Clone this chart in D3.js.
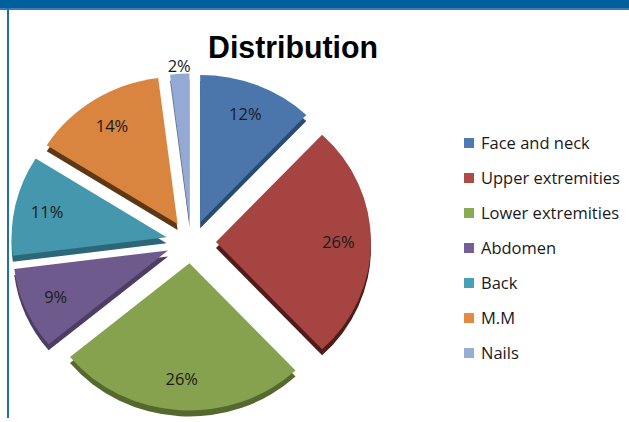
<!DOCTYPE html>
<html>
<head>
<meta charset="utf-8">
<script src="https://cdnjs.cloudflare.com/ajax/libs/d3/7.8.5/d3.min.js"></script>
<style>
  body { margin: 0; background: #ffffff; }
  svg { display: block; }
</style>
</head>
<body>
<script>
var categories = [
  "Face and neck",
  "Upper extremities",
  "Lower extremities",
  "Abdomen",
  "Back",
  "M.M",
  "Nails",
];

var values = [12, 26, 26, 9, 11, 14, 2];

var colors = [
  "#4a76ac",
  "#a54440",
  "#87a24f",
  "#6f5a8d",
  "#4597ad",
  "#d9853f",
  "#95aad2",
];

var sideColors = [
  "#2c4a70",
  "#4e1c1b",
  "#55682e",
  "#4d3d63",
  "#2c6777",
  "#5e3714",
  "#5e6f90",
];

var legendColors = [
  "#4f7bb4",
  "#b04a47",
  "#8bab53",
  "#765e97",
  "#48a0b8",
  "#e48a42",
  "#94aed6",
];

var width = 629,
  height = 422;

var svg = d3
  .select("body")
  .append("svg")
  .attr("width", width)
  .attr("height", height);

// frame
svg
  .append("rect")
  .attr("x", 0)
  .attr("y", 0)
  .attr("width", width)
  .attr("height", 8)
  .attr("fill", "#00609e");
svg
  .append("rect")
  .attr("x", 0)
  .attr("y", 8)
  .attr("width", width)
  .attr("height", 2)
  .attr("fill", "#3a7fb6");
svg
  .append("rect")
  .attr("x", 7)
  .attr("y", 8)
  .attr("width", 2)
  .attr("height", 410)
  .attr("fill", "#1f6fae");

// title
svg
  .append("text")
  .attr("x", 293)
  .attr("y", 58)
  .attr("text-anchor", "middle")
  .attr("font-family", "Liberation Sans, Arial, sans-serif")
  .attr("font-weight", "bold")
  .attr("font-size", 31)
  .attr("textLength", 170)
  .attr("lengthAdjust", "spacingAndGlyphs")
  .attr("fill", "#000")
  .text("Distribution");

var cx = 191,
  cy = 242,
  radius = 155,
  tilt = 0.95,
  explode = 25,
  explodeTilt = 0.85,
  depth = 6;

var pie = d3
  .pie()
  .sort(null)
  .value(function (d) {
    return d;
  });

var arcs = pie(values);

var arc = d3.arc().innerRadius(0).outerRadius(radius);

function apex(d) {
  var mid = (d.startAngle + d.endAngle) / 2;
  return [
    cx + Math.sin(mid) * explode,
    cy - Math.cos(mid) * explode * explodeTilt,
  ];
}

var pieG = svg.append("g");

// sides first, then tops
pieG
  .selectAll("path.side")
  .data(arcs)
  .enter()
  .append("path")
  .attr("class", "side")
  .attr("transform", function (d) {
    var p = apex(d);
    return "translate(" + p[0] + "," + (p[1] + depth) + ") scale(1," + tilt + ")";
  })
  .attr("d", arc)
  .attr("fill", function (d, i) {
    return sideColors[i];
  });

pieG
  .selectAll("path.top")
  .data(arcs)
  .enter()
  .append("path")
  .attr("class", "top")
  .attr("transform", function (d) {
    var p = apex(d);
    return "translate(" + p[0] + "," + p[1] + ") scale(1," + tilt + ")";
  })
  .attr("d", arc)
  .attr("fill", function (d, i) {
    return colors[i];
  });

// percent labels
pieG
  .selectAll("text")
  .data(arcs)
  .enter()
  .append("text")
  .attr("x", function (d) {
    var mid = (d.startAngle + d.endAngle) / 2;
    var r = d.value < 5 ? radius * 1.05 : radius * 0.79;
    return apex(d)[0] + Math.sin(mid) * r;
  })
  .attr("y", function (d) {
    var mid = (d.startAngle + d.endAngle) / 2;
    var r = d.value < 5 ? radius * 1.05 : radius * 0.79;
    return apex(d)[1] - Math.cos(mid) * r * tilt + 6;
  })
  .attr("text-anchor", "middle")
  .attr("font-family", "Open Sans, sans-serif")
  .attr("font-size", 16.5)
  .attr("fill", "#1a1a1a")
  .text(function (d) {
    return d.value + "%";
  });

// legend
var legend = svg.append("g").attr("transform", "translate(464,143)");

var rows = legend
  .selectAll("g")
  .data(categories)
  .enter()
  .append("g")
  .attr("transform", function (d, i) {
    return "translate(0," + i * 35 + ")";
  });

rows
  .append("rect")
  .attr("x", 0)
  .attr("y", -5)
  .attr("width", 10)
  .attr("height", 10)
  .attr("fill", function (d, i) {
    return legendColors[i];
  });

rows
  .append("text")
  .attr("x", 17)
  .attr("y", 6)
  .attr("font-family", "Open Sans, sans-serif")
  .attr("font-size", 16.5)
  .attr("fill", "#1a1a1a")
  .text(function (d) {
    return d;
  });
</script>
</body>
</html>
